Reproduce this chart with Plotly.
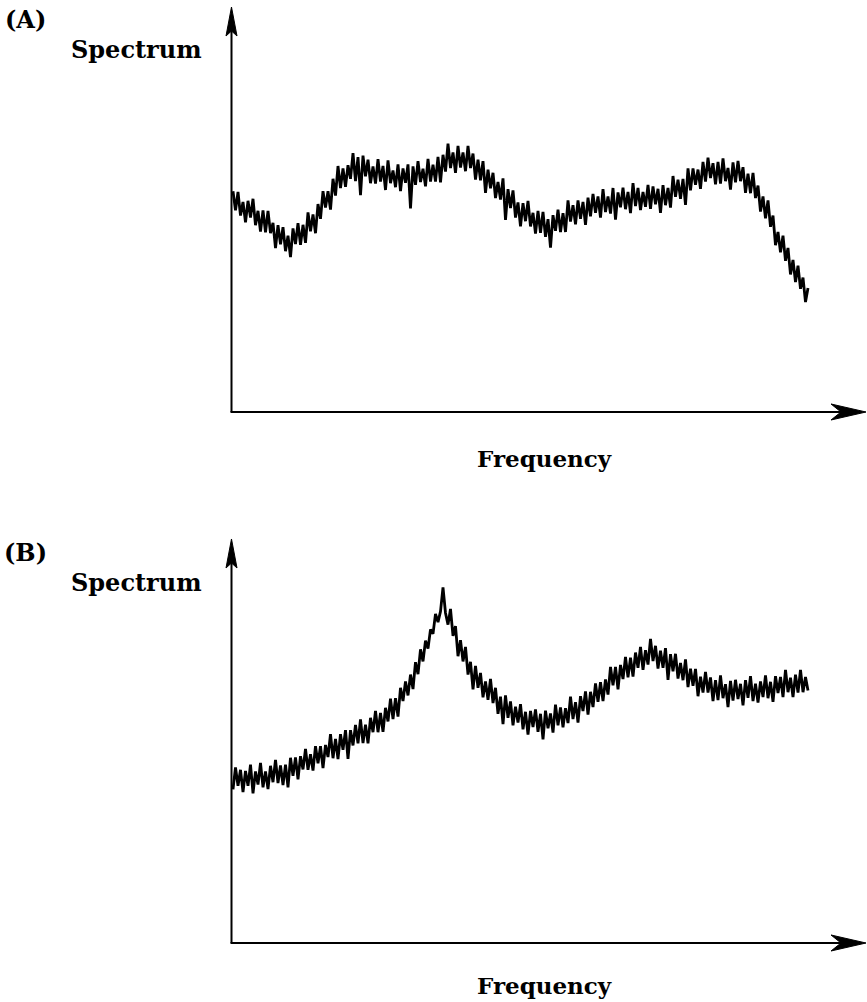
import plotly.graph_objects as go

W, H = 867, 1002

# Panel (A) spectrum values (arbitrary units)
spec_a = [
    55.2, 50.4, 55.0, 49.1, 52.5, 47.4, 52.8, 48.6, 53.3, 46.7,
    50.3, 45.1, 50.4, 44.9, 50.3, 44.7, 47.3, 41.0, 46.7, 41.9,
    46.2, 40.2, 44.1, 38.7, 45.9, 42.0, 47.2, 41.8, 46.8, 42.3,
    49.9, 45.2, 49.4, 44.7, 52.0, 48.3, 55.2, 51.1, 55.2, 50.6,
    58.3, 54.1, 61.5, 56.0, 60.9, 56.3, 61.7, 58.3, 64.7, 57.7,
    63.7, 54.2, 64.1, 58.9, 63.1, 57.2, 61.4, 57.1, 63.2, 57.6,
    61.5, 55.5, 62.9, 57.2, 60.4, 56.2, 61.9, 55.2, 60.9, 57.3,
    61.9, 50.9, 61.4, 56.8, 62.7, 57.5, 60.8, 56.4, 63.3, 57.6,
    61.8, 57.6, 63.8, 57.4, 64.3, 60.1, 67.1, 61.0, 64.9, 59.8,
    66.5, 61.1, 64.9, 60.2, 66.5, 61.0, 64.6, 58.1, 63.1, 57.9,
    62.7, 54.8, 60.6, 55.9, 59.8, 53.5, 57.5, 53.1, 58.4, 48.0,
    55.7, 51.0, 55.4, 48.6, 52.4, 46.4, 52.2, 47.7, 52.8, 46.4,
    49.8, 44.6, 50.3, 44.8, 50.0, 43.8, 48.2, 41.1, 49.2, 45.3,
    50.6, 45.0, 49.7, 45.0, 52.9, 47.6, 51.7, 46.9, 52.9, 48.3,
    52.5, 46.8, 53.6, 48.9, 54.5, 49.8, 53.9, 48.6, 55.7, 50.0,
    53.9, 49.6, 56.0, 48.1, 54.9, 51.2, 56.1, 50.7, 55.0, 49.7,
    57.2, 51.5, 56.0, 50.5, 55.0, 51.3, 56.8, 50.8, 56.4, 51.9,
    55.8, 49.8, 56.7, 51.7, 56.0, 51.1, 59.0, 53.8, 58.1, 53.3,
    58.3, 51.8, 60.9, 55.4, 60.9, 56.8, 60.6, 55.8, 62.5, 57.6,
    63.6, 58.5, 62.2, 56.9, 62.5, 57.1, 63.4, 57.7, 61.0, 55.6,
    62.4, 57.4, 62.8, 57.7, 61.2, 54.8, 59.6, 54.7, 59.8, 53.5,
    56.6, 50.1, 53.9, 48.4, 52.9, 46.3, 49.1, 41.7, 45.0, 39.9,
    44.1, 37.8, 41.0, 34.4, 38.0, 32.5, 36.6, 30.8, 33.6, 27.5,
    31.0,
]

# Panel (B) spectrum values (arbitrary units)
spec_b = [
    38.4, 43.9, 39.3, 43.3, 37.7, 43.0, 39.3, 44.6, 37.4, 42.9,
    39.6, 45.0, 38.9, 42.9, 38.5, 44.3, 40.2, 45.8, 40.0, 44.4,
    39.5, 44.6, 38.9, 46.3, 41.8, 46.4, 40.9, 46.7, 43.4, 48.5,
    43.3, 47.2, 43.1, 49.2, 44.9, 49.2, 43.7, 49.5, 46.5, 52.2,
    46.2, 51.0, 46.0, 52.2, 48.3, 53.2, 46.0, 53.2, 49.4, 54.5,
    49.9, 55.9, 50.0, 54.6, 49.9, 56.3, 52.7, 58.0, 52.7, 57.5,
    52.8, 58.8, 55.4, 61.1, 56.0, 61.2, 56.6, 63.8, 60.5, 65.4,
    61.9, 67.1, 63.5, 70.2, 67.2, 73.4, 70.4, 75.6, 73.6, 78.4,
    77.3, 82.3, 80.2, 82.9, 88.9, 82.5, 79.6, 83.5, 76.8, 79.2,
    71.7, 75.7, 70.4, 74.0, 67.1, 70.3, 63.4, 69.3, 63.8, 67.5,
    61.4, 65.4, 60.8, 66.0, 60.0, 63.8, 57.3, 61.6, 54.7, 61.9,
    56.3, 60.4, 54.4, 59.1, 55.1, 59.7, 53.4, 57.8, 52.1, 58.0,
    54.0, 58.4, 52.8, 57.3, 50.9, 58.1, 53.7, 57.4, 52.6, 59.6,
    54.4, 58.9, 53.9, 58.7, 55.0, 61.6, 56.0, 60.2, 55.1, 61.7,
    58.0, 62.9, 57.1, 62.8, 59.0, 64.9, 60.3, 65.2, 60.5, 65.9,
    62.1, 69.0, 64.4, 69.0, 63.4, 69.5, 66.0, 71.5, 66.4, 71.3,
    66.6, 72.6, 68.8, 74.0, 68.3, 73.2, 69.6, 76.0, 70.5, 74.3,
    68.6, 73.1, 68.8, 73.7, 65.8, 72.2, 67.9, 72.3, 66.1, 70.0,
    65.7, 70.9, 64.0, 68.6, 64.3, 68.5, 61.7, 66.6, 62.6, 67.8,
    62.6, 66.4, 60.5, 65.7, 60.7, 66.9, 61.2, 64.7, 59.0, 65.5,
    60.6, 65.8, 61.0, 64.8, 59.4, 65.7, 61.3, 66.7, 60.5, 64.8,
    60.1, 65.4, 61.5, 66.9, 61.2, 65.3, 60.3, 66.7, 62.5, 66.5,
    61.5, 68.3, 62.7, 66.3, 61.5, 67.1, 62.6, 68.3, 62.7, 66.5,
    63.1,
]

# Frequency bins (arbitrary units, evenly spaced)
freq_a = [round(0.4 + 0.5 * k, 2) for k in range(len(spec_a))]
freq_b = [round(0.4 + 0.5 * k, 2) for k in range(len(spec_b))]

panel_labels = ["(A)", "(B)"]
y_label = "Spectrum"
x_label = "Frequency"


def px(x):
    return x / W


def py(y):
    return 1 - y / H


def path(points):
    return "M " + " L ".join(f"{px(a):.5f},{py(b):.5f}" for a, b in points) + " Z"


fig = go.Figure()
fig.add_trace(go.Scatter(x=freq_a, y=spec_a, mode="lines",
                         line=dict(color="black", width=2.8),
                         xaxis="x", yaxis="y", showlegend=False))
fig.add_trace(go.Scatter(x=freq_b, y=spec_b, mode="lines",
                         line=dict(color="black", width=2.8),
                         xaxis="x2", yaxis="y2", showlegend=False))

ax_common = dict(showgrid=False, zeroline=False, showticklabels=False,
                 ticks="", showline=False, fixedrange=True)

x_dom = [231 / W, 866 / W]
fig.update_layout(
    width=W, height=H, autosize=False,
    margin=dict(l=0, r=0, t=0, b=0),
    paper_bgcolor="white", plot_bgcolor="white",
    xaxis=dict(domain=x_dom, range=[0, 127], anchor="y", **ax_common),
    yaxis=dict(domain=[py(412), py(7)], range=[0, 101.25], anchor="x", **ax_common),
    xaxis2=dict(domain=x_dom, range=[0, 127], anchor="y2", **ax_common),
    yaxis2=dict(domain=[py(943), py(539)], range=[0, 101], anchor="x2", **ax_common),
)

shapes = []
annotations = []
font_big = dict(family="DejaVu Serif", size=24, color="black", weight="bold")
font_x = dict(family="DejaVu Serif", size=23, color="black", weight="bold")
for k, (top, axis_y) in enumerate([(7, 412), (539, 943)]):
    shapes.append(dict(type="line", xref="paper", yref="paper",
                       x0=px(231.5), x1=px(231.5), y0=py(axis_y), y1=py(top + 20),
                       line=dict(color="black", width=2)))
    shapes.append(dict(type="line", xref="paper", yref="paper",
                       x0=px(230.5), x1=px(845), y0=py(axis_y), y1=py(axis_y),
                       line=dict(color="black", width=2)))
    shapes.append(dict(type="path", xref="paper", yref="paper",
                       path=path([(231.5, top), (237.0, top + 29), (231.5, top + 24),
                                  (226.0, top + 29)]),
                       fillcolor="black", line=dict(color="black", width=1)))
    shapes.append(dict(type="path", xref="paper", yref="paper",
                       path=path([(866, axis_y), (831, axis_y - 8), (841, axis_y),
                                  (831, axis_y + 8)]),
                       fillcolor="black", line=dict(color="black", width=1)))
    off = 0 if k == 0 else 532
    annotations.append(dict(text=panel_labels[k], xref="paper", yref="paper",
                            x=px(25), y=py(20 + off), xanchor="center", yanchor="middle",
                            showarrow=False, font=font_big))
    annotations.append(dict(text=y_label, xref="paper", yref="paper",
                            x=px(136), y=py(50 + off), xanchor="center", yanchor="middle",
                            showarrow=False, font=font_big))
    fy = 458 if k == 0 else 985
    annotations.append(dict(text=x_label, xref="paper", yref="paper",
                            x=px(544), y=py(fy), xanchor="center", yanchor="middle",
                            showarrow=False, font=font_x))

fig.update_layout(shapes=shapes, annotations=annotations)
fig.write_html("out.html")
